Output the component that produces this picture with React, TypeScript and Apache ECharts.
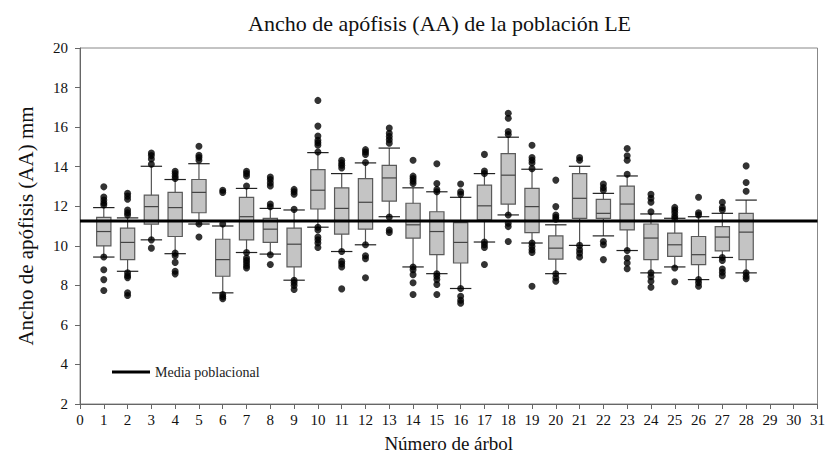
import React, { useEffect, useRef } from "react";
import * as echarts from "echarts";

const trees = [1, 2, 3, 4, 5, 6, 7, 8, 9, 10, 11, 12, 13, 14, 15, 16, 17, 18, 19, 20, 21, 22, 23, 24, 25, 26, 27, 28];
const whiskerLow = [9.43, 8.71, 10.3, 9.6, 11.1, 7.62, 9.66, 9.58, 8.26, 10.94, 9.71, 10.05, 11.47, 8.93, 8.59, 7.84, 10.19, 11.56, 10.14, 8.59, 10.02, 10.5, 9.76, 8.63, 8.93, 8.29, 9.41, 8.63];
const q1 = [10.0, 9.3, 11.09, 10.47, 11.67, 8.46, 10.3, 10.17, 8.93, 11.86, 10.59, 10.84, 12.26, 10.39, 9.55, 9.13, 11.31, 12.11, 10.67, 9.33, 11.39, 11.39, 10.8, 9.3, 9.46, 9.05, 9.74, 9.3];
const median = [10.72, 10.17, 11.98, 11.93, 12.7, 9.3, 11.47, 10.84, 10.08, 12.81, 11.89, 12.2, 13.43, 11.06, 10.72, 10.17, 12.02, 13.57, 11.98, 9.88, 12.4, 11.64, 12.11, 10.39, 10.05, 9.55, 10.44, 10.69];
const q3 = [11.44, 10.89, 12.56, 12.7, 13.35, 10.33, 12.45, 11.39, 10.89, 13.85, 12.93, 13.4, 14.07, 12.15, 11.72, 11.17, 13.07, 14.66, 12.9, 10.5, 13.65, 12.35, 13.02, 11.1, 10.64, 10.47, 10.97, 11.64];
const whiskerHigh = [11.93, 11.41, 14.02, 13.35, 14.15, 11.0, 12.9, 11.89, 11.81, 14.71, 13.65, 14.19, 14.94, 12.93, 12.73, 12.45, 13.65, 15.49, 13.87, 11.06, 14.02, 12.65, 13.53, 11.61, 11.39, 11.47, 11.64, 12.31];
const outliers = [
  [12.98, 12.46, 12.31, 12.16, 12.06, 9.43, 8.79, 8.29, 7.74],
  [12.65, 12.51, 12.35, 11.81, 11.67, 11.56, 8.63, 8.49, 8.39, 7.62, 7.49],
  [14.69, 14.56, 14.39, 14.12, 10.3, 9.88],
  [13.77, 13.65, 13.52, 13.4, 9.63, 9.5, 9.16, 8.71, 8.58],
  [15.03, 14.57, 14.46, 14.32, 11.1, 10.44],
  [12.81, 12.7, 11.1, 7.54, 7.42, 7.32],
  [13.77, 13.65, 13.53, 13.02, 9.66, 9.38, 9.26, 9.13, 8.99, 8.88],
  [13.48, 13.35, 13.18, 13.02, 12.11, 11.97, 9.55, 9.05],
  [12.85, 12.73, 12.61, 11.84, 8.26, 8.13, 7.99, 7.79],
  [17.35, 16.05, 15.55, 15.33, 15.21, 15.08, 14.74, 10.94, 10.8, 10.44, 10.3, 10.14, 9.91],
  [14.32, 14.19, 14.07, 13.93, 9.71, 9.21, 9.08, 8.93, 7.82],
  [14.86, 14.74, 14.62, 14.21, 10.05, 9.5, 9.35, 8.38],
  [15.95, 15.69, 15.53, 15.36, 15.19, 11.45, 10.8, 10.67],
  [14.32, 13.52, 13.4, 13.27, 13.15, 8.93, 8.79, 8.54, 8.13, 7.54],
  [14.15, 13.15, 12.85, 12.73, 8.59, 8.46, 8.29, 8.04, 7.54],
  [13.12, 12.73, 12.6, 7.84, 7.45, 7.25, 7.1],
  [14.62, 13.78, 13.65, 10.19, 10.05, 9.91, 9.05],
  [16.7, 16.45, 15.78, 15.63, 11.56, 11.14, 10.97, 10.22],
  [15.08, 14.46, 14.32, 14.19, 13.9, 10.14, 9.97, 9.8, 9.66, 7.95],
  [13.32, 11.98, 11.56, 11.44, 11.34, 8.59, 8.38, 8.21],
  [14.46, 14.32, 10.02, 9.8, 9.63, 9.43],
  [13.12, 12.95, 12.81, 10.22, 10.05, 9.3],
  [14.92, 14.55, 14.32, 13.62, 9.76, 9.38, 9.13, 8.84],
  [12.6, 12.4, 12.2, 11.72, 8.63, 8.43, 8.21, 7.9],
  [11.94, 11.81, 11.67, 11.51, 11.39, 8.88, 8.18],
  [12.45, 11.67, 11.56, 8.29, 8.13, 7.95],
  [12.2, 11.94, 11.81, 9.41, 9.26, 8.83, 8.66, 8.49],
  [14.04, 13.2, 12.76, 8.63, 8.46, 8.33],
];
const populationMean = 11.25;
const xTicks = { min: 0, max: 31, interval: 1 };
const yTicks = { min: 2, max: 20, interval: 2 };

const FONT = "Liberation Serif";

export default function App() {
  const ref = useRef<HTMLDivElement>(null);
  useEffect(() => {
    if (!ref.current) return;
    const chart = echarts.init(ref.current, null, { renderer: "svg" });
    const boxData = trees.map((t, i) => [t, whiskerLow[i], q1[i], median[i], q3[i], whiskerHigh[i]]);
    const outlierData: number[][] = [];
    trees.forEach((t, i) => outliers[i].forEach((v) => outlierData.push([t, v])));

    const renderBox = (params: any, api: any) => {
      const x = api.value(0);
      const lo = api.coord([x, api.value(1)]);
      const b1 = api.coord([x, api.value(2)]);
      const md = api.coord([x, api.value(3)]);
      const b3 = api.coord([x, api.value(4)]);
      const hi = api.coord([x, api.value(5)]);
      const unit = api.size([1, 0])[0];
      const bw = unit * 0.6;
      const cw = unit * 0.9;
      const cx = lo[0];
      return {
        type: "group",
        children: [
          {
            type: "line",
            shape: { x1: cx, y1: lo[1], x2: cx, y2: hi[1] },
            style: { stroke: "#555", lineWidth: 1.2 },
          },
          {
            type: "rect",
            shape: { x: cx - bw / 2, y: b3[1], width: bw, height: b1[1] - b3[1] },
            style: { fill: "#c4c4c4", stroke: "#5a5a5a", lineWidth: 1.2 },
          },
          {
            type: "line",
            shape: { x1: cx - bw / 2, y1: md[1], x2: cx + bw / 2, y2: md[1] },
            style: { stroke: "#444", lineWidth: 1.2 },
          },
          {
            type: "line",
            shape: { x1: cx - cw / 2, y1: lo[1], x2: cx + cw / 2, y2: lo[1] },
            style: { stroke: "#222", lineWidth: 1.2 },
          },
          {
            type: "line",
            shape: { x1: cx - cw / 2, y1: hi[1], x2: cx + cw / 2, y2: hi[1] },
            style: { stroke: "#222", lineWidth: 1.2 },
          },
        ],
      };
    };

    chart.setOption({
      animation: false,
      backgroundColor: "#fff",
      title: {
        text: "Ancho de apófisis (AA) de la población LE",
        left: 243,
        top: 7,
        textStyle: { fontFamily: FONT, fontSize: 22, fontWeight: "normal", color: "#111" },
      },
      legend: {
        data: [{ name: "Media poblacional", icon: "rect" }],
        left: 107,
        top: 360,
        itemWidth: 38,
        itemHeight: 3,
        itemGap: 10,
        textStyle: { fontFamily: FONT, fontSize: 14, color: "#222" },
      },
      grid: {
        left: 80,
        right: 8,
        top: 48,
        bottom: 60,
        show: true,
        borderColor: "#888",
        borderWidth: 1,
      },
      xAxis: {
        type: "value",
        min: xTicks.min,
        max: xTicks.max,
        interval: xTicks.interval,
        name: "Número de árbol",
        nameLocation: "middle",
        nameGap: 30,
        nameTextStyle: { fontFamily: FONT, fontSize: 19, color: "#111" },
        axisLine: { lineStyle: { color: "#666" } },
        axisTick: { show: true, length: 5, lineStyle: { color: "#666" } },
        axisLabel: { fontFamily: FONT, fontSize: 15, color: "#111", margin: 8 },
        splitLine: { show: false },
      },
      yAxis: {
        type: "value",
        min: yTicks.min,
        max: yTicks.max,
        interval: yTicks.interval,
        name: "Ancho de apófisis (AA) mm",
        nameLocation: "middle",
        nameGap: 44,
        nameTextStyle: { fontFamily: FONT, fontSize: 21, color: "#111" },
        axisLine: { show: true, lineStyle: { color: "#666" } },
        axisTick: { show: true, length: 5, lineStyle: { color: "#666" } },
        axisLabel: { fontFamily: FONT, fontSize: 15, color: "#111", margin: 12 },
        splitLine: { show: false },
      },
      series: [
        {
          type: "custom",
          name: "boxes",
          renderItem: renderBox,
          encode: { x: 0, y: [1, 2, 3, 4, 5] },
          data: boxData,
          z: 2,
        },
        {
          type: "scatter",
          name: "outliers",
          data: outlierData,
          symbol: "circle",
          symbolSize: 7,
          itemStyle: { color: "#000" },
          z: 3,
        },
        {
          type: "line",
          name: "Media poblacional",
          data: [
            [xTicks.min, populationMean],
            [xTicks.max, populationMean],
          ],
          symbol: "none",
          lineStyle: { color: "#000", width: 3 },
          itemStyle: { color: "#000" },
          z: 4,
        },
      ],
    });
    return () => chart.dispose();
  }, []);
  return (
    <div
      ref={ref}
      style={{ position: "absolute", left: 0, top: 0, width: 828, height: 464, background: "#fff" }}
    />
  );
}
